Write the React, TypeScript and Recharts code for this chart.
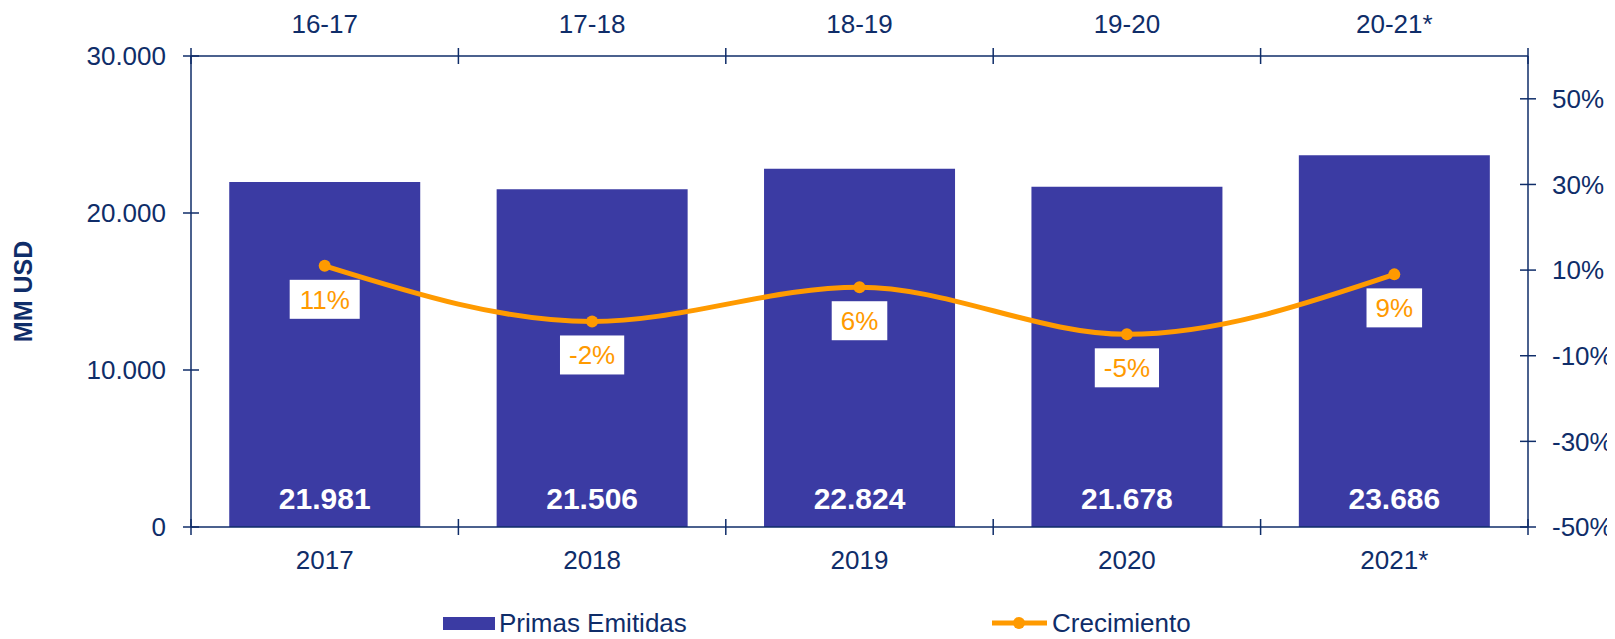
import React from 'react';
import { ComposedChart, Bar, Line, XAxis, YAxis, Legend, LabelList } from 'recharts';

// Datos del gráfico
const years = ['2017', '2018', '2019', '2020', '2021*'];
const periodos = ['16-17', '17-18', '18-19', '19-20', '20-21*'];
const primas = [21981, 21506, 22824, 21678, 23686];
const crecimiento = [0.11, -0.02, 0.06, -0.05, 0.09];
const leftTicks = [0, 10000, 20000, 30000];
const rightTicks = [-0.5, -0.3, -0.1, 0.1, 0.3, 0.5];

const data = years.map((year, i) => ({
  year,
  periodo: periodos[i],
  primas: primas[i],
  crecimiento: crecimiento[i],
}));

const NAVY = '#0F2D69';
const BAR = '#3B3BA3';
const ORANGE = '#FF9A00';
const FONT = 'Arial, "Liberation Sans", sans-serif';

const fmtMiles = (v: number) => String(v).replace(/\B(?=(\d{3})+(?!\d))/g, '.');
const fmtPct = (v: number) => `${Math.round(v * 100)}%`;

// ancho aproximado de texto Arial
const textWidth = (s: string, size: number) => {
  let w = 0;
  for (const ch of s) {
    if (ch === '%') w += 0.889;
    else if (ch === '-') w += 0.333;
    else w += 0.556;
  }
  return w * size;
};

const TopTick = (props: any) => {
  const { x, y, payload, index, visibleTicksCount, width } = props;
  const half = payload.offset ?? width / (2 * visibleTicksCount);
  const axisY = y + 23;
  return (
    <g>
      <line x1={x - half} x2={x - half} y1={axisY - 8} y2={axisY + 8} stroke={NAVY} strokeWidth={1.5} />
      {index === visibleTicksCount - 1 && (
        <line x1={x + half} x2={x + half} y1={axisY - 8} y2={axisY + 8} stroke={NAVY} strokeWidth={1.5} />
      )}
      <text x={x} y={y} textAnchor="middle" fill={NAVY} fontSize={26} fontFamily={FONT}>
        {payload.value}
      </text>
    </g>
  );
};

const BottomTick = (props: any) => {
  const { x, y, payload, index, visibleTicksCount, width } = props;
  const half = payload.offset ?? width / (2 * visibleTicksCount);
  const axisY = y - 23;
  return (
    <g>
      <line x1={x - half} x2={x - half} y1={axisY - 8} y2={axisY + 8} stroke={NAVY} strokeWidth={1.5} />
      {index === visibleTicksCount - 1 && (
        <line x1={x + half} x2={x + half} y1={axisY - 8} y2={axisY + 8} stroke={NAVY} strokeWidth={1.5} />
      )}
      <text x={x} y={y + 18.6} textAnchor="middle" fill={NAVY} fontSize={26} fontFamily={FONT}>
        {payload.value}
      </text>
    </g>
  );
};

const LeftTick = (props: any) => {
  const { x, y, payload } = props;
  const axisX = x + 25;
  return (
    <g>
      <line x1={axisX - 8} x2={axisX + 8} y1={y} y2={y} stroke={NAVY} strokeWidth={1.5} />
      <text x={x} y={y} dy="0.355em" textAnchor="end" fill={NAVY} fontSize={26} fontFamily={FONT}>
        {payload.value === 0 ? '0' : fmtMiles(payload.value)}
      </text>
    </g>
  );
};

const RightTick = (props: any) => {
  const { x, y, payload } = props;
  const axisX = x - 24;
  return (
    <g>
      <line x1={axisX - 8} x2={axisX + 8} y1={y} y2={y} stroke={NAVY} strokeWidth={1.5} />
      <text x={x} y={y} dy="0.355em" textAnchor="start" fill={NAVY} fontSize={26} fontFamily={FONT}>
        {fmtPct(payload.value)}
      </text>
    </g>
  );
};

const BarValueLabel = (props: any) => {
  const { x, y, width, height, value } = props;
  return (
    <text x={x + width / 2} y={y + height - 18} textAnchor="middle" fill="#fff" fontSize={30} fontWeight="bold" fontFamily={FONT}>
      {fmtMiles(value)}
    </text>
  );
};

const PctLabel = (props: any) => {
  const { x, y, value } = props;
  const txt = fmtPct(value);
  const w = textWidth(txt, 26) + 18;
  return (
    <g>
      <rect x={x - w / 2} y={y + 14} width={w} height={39} fill="#fff" />
      <text x={x} y={y + 43} textAnchor="middle" fill={ORANGE} fontSize={26} fontFamily={FONT}>
        {txt}
      </text>
    </g>
  );
};

const YLabel = (props: any) => {
  const { viewBox } = props;
  const cx = 15;
  const cy = viewBox.y + viewBox.height / 2;
  return (
    <text x={cx} y={cy} transform={`rotate(-90, ${cx}, ${cy})`} textAnchor="middle" dy="0.355em" fill={NAVY} fontSize={25} fontWeight="bold" fontFamily={FONT}>
      MM USD
    </text>
  );
};

const renderLegend = () => (
  <svg width={1607} height={38} style={{ display: 'block' }}>
    <rect x={435} y={16} width={52} height={13} fill={BAR} />
    <text x={491} y={22} dy="0.355em" fill={NAVY} fontSize={26} fontFamily={FONT}>Primas Emitidas</text>
    <line x1={984} x2={1039} y1={22} y2={22} stroke={ORANGE} strokeWidth={5} />
    <circle cx={1011} cy={22} r={6} fill={ORANGE} />
    <text x={1044} y={22} dy="0.355em" fill={NAVY} fontSize={26} fontFamily={FONT}>Crecimiento</text>
  </svg>
);

const App: React.FC = () => {
  return (
    <div style={{ width: 1607, height: 631, background: '#fff' }}>
      <ComposedChart
        width={1607}
        height={631}
        data={data}
        margin={{ top: 0, right: 0, left: 0, bottom: 0 }}
        barCategoryGap="14.3%"
      >
        <XAxis
          xAxisId="top"
          dataKey="periodo"
          orientation="top"
          height={48}
          tickSize={0}
          tickMargin={23}
          tickLine={false}
          axisLine={{ stroke: NAVY, strokeWidth: 1.5 }}
          tick={<TopTick />}
          interval={0}
        />
        <XAxis
          xAxisId="bottom"
          dataKey="year"
          orientation="bottom"
          height={74}
          tickSize={0}
          tickMargin={23}
          tickLine={false}
          axisLine={{ stroke: NAVY, strokeWidth: 1.5 }}
          tick={<BottomTick />}
          interval={0}
        />
        <YAxis
          yAxisId="left"
          orientation="left"
          width={183}
          domain={[0, 30000]}
          ticks={leftTicks}
          tickSize={0}
          tickMargin={25}
          tickLine={false}
          axisLine={{ stroke: NAVY, strokeWidth: 1.5 }}
          tick={<LeftTick />}
          label={{ content: <YLabel /> }}
        />
        <YAxis
          yAxisId="right"
          orientation="right"
          width={87}
          domain={[-0.5, 0.6]}
          ticks={rightTicks}
          tickSize={0}
          tickMargin={24}
          tickLine={false}
          axisLine={{ stroke: NAVY, strokeWidth: 1.5 }}
          tick={<RightTick />}
        />
        <Legend verticalAlign="bottom" wrapperStyle={{ left: 0, width: 1607 }} content={renderLegend} />
        <Bar xAxisId="bottom" yAxisId="left" dataKey="primas" name="Primas Emitidas" fill={BAR} isAnimationActive={false}>
          <LabelList dataKey="primas" content={<BarValueLabel />} />
        </Bar>
        <Line
          xAxisId="bottom"
          yAxisId="right"
          type="monotone"
          dataKey="crecimiento"
          name="Crecimiento"
          stroke={ORANGE}
          strokeWidth={5}
          dot={{ r: 6, fill: ORANGE, stroke: ORANGE, strokeWidth: 0 }}
          activeDot={false}
          isAnimationActive={false}
        >
          <LabelList dataKey="crecimiento" content={<PctLabel />} />
        </Line>
      </ComposedChart>
    </div>
  );
};

export default App;
